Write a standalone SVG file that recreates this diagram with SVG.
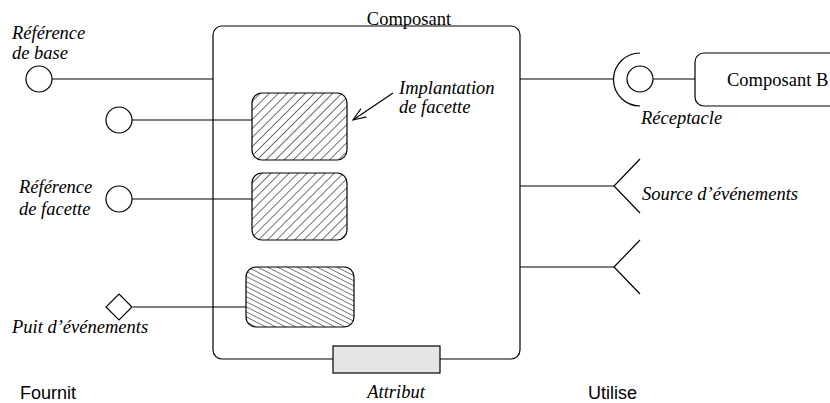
<svg xmlns="http://www.w3.org/2000/svg" width="830" height="403" viewBox="0 0 830 403">
<style>
.l{stroke:#000;stroke-width:1.2;fill:none}
.o{stroke:#000;stroke-width:1.2;fill:#fff}
.s{font-family:"Liberation Serif",serif;font-size:18.5px;fill:#000}
.i{font-family:"Liberation Serif",serif;font-size:18.5px;font-style:italic;fill:#000}
.a{font-family:"Liberation Sans",sans-serif;font-size:18px;fill:#000}
</style>
<defs>
<pattern id="h1" patternUnits="userSpaceOnUse" width="6.4" height="6.4" patternTransform="rotate(45)">
<rect width="6.4" height="6.4" fill="#fff"/>
<line x1="0" y1="0" x2="0" y2="6.4" stroke="#000" stroke-width="1.1"/>
</pattern>
<pattern id="h2" patternUnits="userSpaceOnUse" width="4.5" height="4.5" patternTransform="rotate(-63)">
<rect width="4.5" height="4.5" fill="#fff"/>
<line x1="0" y1="0" x2="0" y2="4.5" stroke="#000" stroke-width="1"/>
</pattern>
<marker id="arr" markerWidth="14" markerHeight="12" refX="13" refY="6" orient="auto" markerUnits="userSpaceOnUse">
<polyline points="0,1 13,6 0,11" fill="none" stroke="#000" stroke-width="1.1"/>
</marker>
</defs>
<g id="connectors">
<line class="l" x1="52" y1="79" x2="213" y2="79"/>
<line class="l" x1="132" y1="120" x2="252" y2="120"/>
<line class="l" x1="132" y1="199" x2="252" y2="199"/>
<line class="l" x1="133" y1="307" x2="246" y2="307"/>
<line class="l" x1="520" y1="79" x2="614" y2="79"/>
<line class="l" x1="653" y1="79" x2="695" y2="79"/>
<line class="l" x1="520" y1="186" x2="614" y2="186"/>
<line class="l" x1="520" y1="267" x2="614" y2="267"/>
<line class="l" x1="393" y1="93" x2="353" y2="120" marker-end="url(#arr)"/>
</g>
<g id="composant">
<rect class="l" x="213" y="26" width="307" height="333" rx="9"/>
<text class="s" x="409" y="25" text-anchor="middle">Composant</text>
</g>
<g id="facette1"><rect x="252" y="93" width="95" height="67" rx="10" fill="url(#h1)" stroke="#000" stroke-width="1.2"/></g>
<g id="facette2"><rect x="252" y="173" width="95" height="67" rx="10" fill="url(#h1)" stroke="#000" stroke-width="1.2"/></g>
<g id="puit-impl"><rect x="246" y="267" width="108" height="60" rx="10" fill="url(#h2)" stroke="#000" stroke-width="1.2"/></g>
<g id="attribut">
<rect x="333" y="346" width="107" height="27" fill="#e5e5e5" stroke="#000" stroke-width="1.2"/>
<text class="i" x="396" y="398" text-anchor="middle">Attribut</text>
</g>
<g id="ref-base">
<circle class="o" cx="39" cy="79" r="13"/>
<text class="i" x="12" y="39">Référence</text>
<text class="i" x="12" y="59">de base</text>
</g>
<g id="ref-facette1"><circle class="o" cx="119" cy="120" r="13"/></g>
<g id="ref-facette2">
<circle class="o" cx="119" cy="199" r="13"/>
<text class="i" x="19" y="193">Référence</text>
<text class="i" x="19" y="215">de facette</text>
</g>
<g id="puit">
<polygon class="o" points="119,294 132,307 119,320 106,307"/>
<text class="i" x="12" y="333">Puit d’événements</text>
</g>
<g id="implantation-label">
<text class="i" x="399" y="94">Implantation</text>
<text class="i" x="399" y="113">de facette</text>
</g>
<g id="receptacle">
<path class="l" d="M640,53 A26,26 0 0 0 640,106"/>
<circle class="o" cx="640" cy="79" r="13"/>
<text class="i" x="641" y="124">Réceptacle</text>
</g>
<g id="composant-b">
<rect class="l" x="695" y="53" width="150" height="53" rx="9"/>
<text class="s" x="727" y="86">Composant B</text>
</g>
<g id="source1">
<polyline class="l" points="640,159 614,186 640,213"/>
<text class="i" x="642" y="200">Source d’événements</text>
</g>
<g id="source2"><polyline class="l" points="640,240 614,267 640,294"/></g>
<g id="legend">
<text class="a" x="20" y="399">Fournit</text>
<text class="a" x="588" y="399">Utilise</text>
</g>
</svg>
